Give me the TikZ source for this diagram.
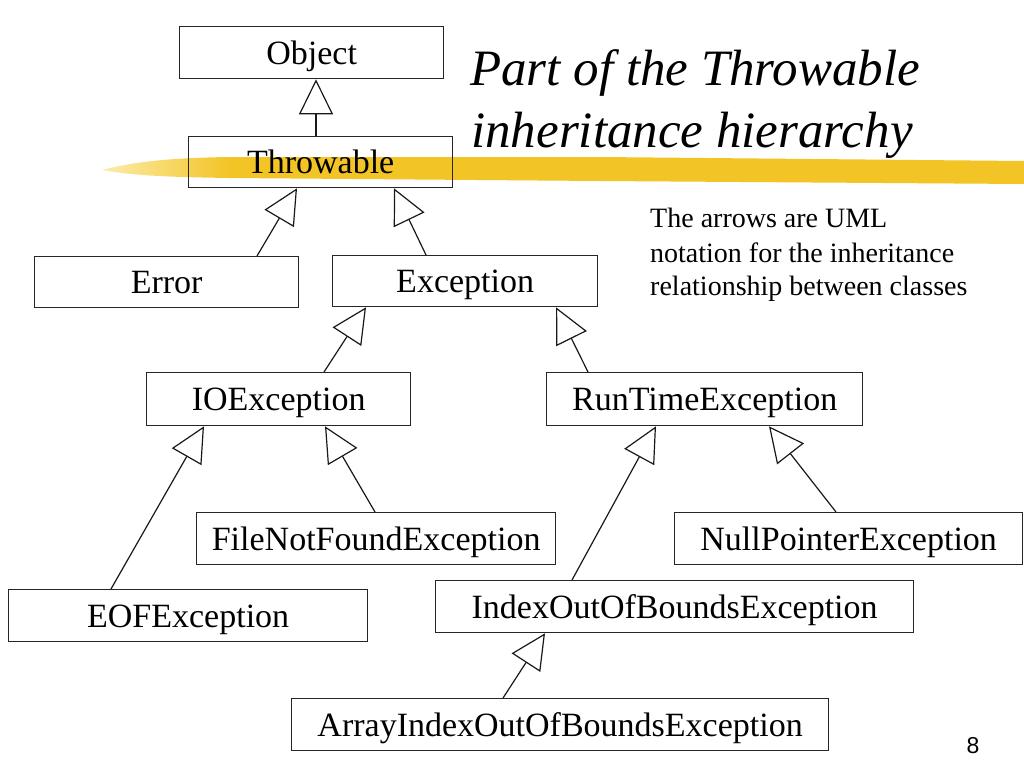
\documentclass[tikz,border=0pt]{standalone}
\usepackage{fontspec}
\setmainfont{Liberation Serif}
\newfontfamily\pagefont{Liberation Sans}
\usetikzlibrary{arrows.meta}
\definecolor{hlgold}{RGB}{243,196,38}
\definecolor{hllight}{RGB}{252,236,170}
\begin{document}
\begin{tikzpicture}[x=1pt,y=-1pt,
  cls/.style={draw=black!85, line width=1.3pt, inner sep=0pt, anchor=north west,
    minimum height=52pt, font=\fontsize{34}{40}\selectfont,
    text height=23pt, text depth=0pt},
  inh/.style={line width=1.2pt, draw=black!90,
    -{Triangle[open, length=35pt, width=34pt, line width=1.2pt]}},
  titlefont/.style={anchor=base west, inner sep=0pt, font=\fontsize{51}{60}\selectfont\itshape},
  notefont/.style={anchor=base west, inner sep=0pt, font=\fontsize{28}{34}\selectfont}]
\useasboundingbox (0,0) rectangle (1024,768);
\fill[white] (0,0) rectangle (1024,768);

% highlighter stroke
\shade[left color=hllight, right color=hlgold]
  (102,170) .. controls (130,163) and (160,158) .. (230,157) -- (230,178)
  .. controls (160,177) and (130,175) .. (102,170) -- cycle;
\fill[hlgold] (229,157) -- (600,157) -- (1024,161) -- (1024,184) -- (600,181) -- (229,178) -- cycle;

% classes
\node[cls, minimum width=264pt] (obj) at (179,26) {Object};
\node[cls, minimum width=264pt, minimum height=51pt] (thr) at (188,136) {Throwable};
\node[cls, minimum width=264pt, minimum height=51pt] (err) at (34,256) {Error};
\node[cls, minimum width=265pt, minimum height=51pt] (exc) at (332,255) {Exception};
\node[cls, minimum width=264pt, minimum height=53pt] (ioe) at (146,372) {IOException};
\node[cls, minimum width=316pt, minimum height=53pt] (rte) at (546,372) {RunTimeException};
\node[cls, minimum width=359pt] (fnf) at (196,512) {FileNotFoundException};
\node[cls, minimum width=348pt] (npe) at (674,512) {NullPointerException};
\node[cls, minimum width=359pt] (eof) at (8,589) {EOFException};
\node[cls, minimum width=478pt] (ioobe) at (435,580) {IndexOutOfBoundsException};
\node[cls, minimum width=537pt] (aioobe) at (291,698) {ArrayIndexOutOfBoundsException};

% inheritance arrows
\draw[inh] ([xshift=128pt]thr.north west) -- ([xshift=137pt]obj.south west);
\draw[inh] ([xshift=223pt]err.north west) -- ([xshift=109pt]thr.south west);
\draw[inh] ([xshift=94pt]exc.north west) -- ([xshift=206pt]thr.south west);
\draw[inh] ([xshift=178pt]ioe.north west) -- ([xshift=34pt]exc.south west);
\draw[inh] ([xshift=42pt]rte.north west) -- ([xshift=224pt]exc.south west);
\draw[inh] ([xshift=103pt]eof.north west) -- ([xshift=58pt]ioe.south west);
\draw[inh] ([xshift=179pt]fnf.north west) -- ([xshift=179pt]ioe.south west);
\draw[inh] ([xshift=137pt]ioobe.north west) -- ([xshift=110pt]rte.south west);
\draw[inh] ([xshift=162pt]npe.north west) -- ([xshift=223pt]rte.south west);
\draw[inh] ([xshift=212pt]aioobe.north west) -- ([xshift=110pt]ioobe.south west);

% title
\node[titlefont] (t1) at (470,85) {Part of the Throwable};
\node[titlefont] (t2) at (471,147) {inheritance hierarchy};

% note
\node[notefont] (n1) at (650,227) {The arrows are UML};
\node[notefont] (n2) at (650,262) {notation for the inheritance};
\node[notefont] (n3) at (650,295) {relationship between classes};

% page number
\node[anchor=base, inner sep=0pt, font=\pagefont\fontsize{23}{28}\selectfont] (pg) at (973,753) {8};
\end{tikzpicture}
\end{document}
